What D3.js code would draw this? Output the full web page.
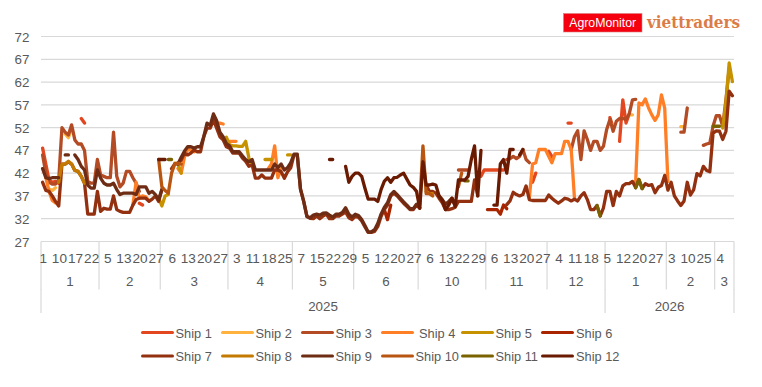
<!DOCTYPE html>
<html><head><meta charset="utf-8">
<script src="https://cdn.jsdelivr.net/npm/d3@7"></script>
<style>html,body{margin:0;padding:0;background:#fff}svg{display:block}text{font-family:"Liberation Sans",Arial,sans-serif}</style>
</head><body><svg id="c" width="762" height="387"></svg>
<script>
// category levels: day labels per month
const months = [
 {year:"2025",month:"1",days:[1,6,7,8,9,10,13,14,15,16,17,18,19,20,21,22,23,24]},
 {year:"2025",month:"2",days:[3,4,5,6,7,10,12,13,14,17,18,19,20,21,24,25,26,27,28]},
 {year:"2025",month:"3",days:[3,4,5,6,7,10,11,12,13,14,17,18,19,20,21,24,25,26,27,28,31]},
 {year:"2025",month:"4",days:[1,2,3,4,7,8,9,11,14,15,16,17,18,21,22,23,24,25,28,29]},
 {year:"2025",month:"5",days:[5,6,7,8,9,12,13,15,16,19,20,21,22,23,26,27,28,29,30]},
 {year:"2025",month:"6",days:[2,3,4,5,6,9,10,11,12,13,16,17,18,20,23,24,25,26,27,30]},
 {year:"2025",month:"10",days:[1,2,3,6,7,8,9,10,13,14,15,16,17,22,23,24,27,28,29,30,31]},
 {year:"2025",month:"11",days:[3,4,6,7,10,11,12,13,14,17,18,19,20,21,24,25,26,27,28]},
 {year:"2025",month:"12",days:[1,2,3,4,5,8,9,10,11,12,15,16,17,18,19,22,23,24]},
 {year:"2026",month:"1",days:[5,6,7,8,9,12,13,14,15,16,20,21,22,23,26,27,28,29,30]},
 {year:"2026",month:"2",days:[2,3,4,5,6,9,10,11,12,13,20,25,26,27,28]},
 {year:"2026",month:"3",days:[3,4,5,6,9,10]}
];
const yTicks = [27,32,37,42,47,52,57,62,67,72];
const shipNames = ["Ship 1","Ship 2","Ship 3","Ship 4","Ship 5","Ship 6","Ship 7","Ship 8","Ship 9","Ship 10","Ship 11","Ship 12"];
const shipColors = ["#E2471F","#FFB23E","#B34B24","#FF7F27","#C79200","#A82500","#93300F","#C47A00","#6E2C14","#B85510","#7A6200","#6A1A00"];
// each run: [first category index, values...]
const ship1 = [[0,[47.5,44,40.5,40,40.2,39.8]],[12,[54,53]],[30,[35.4,35]],[136,[41.3,42.7,42.7,42.7,42.7,42.7,42.7,42.7]],[152,[40,42]],[157,[46.8,45.7]],[163,[53,53]],[176,[54.2,52]],[179,[49,58.1,53,55]]];
const ship2 = [[2,[38.5,38.2,38.8]],[7,[50.6,49.8,51.8]],[53,[53.5,53]],[176,[53,52.5]],[182,[54.8,54.8]],[198,[52.2,52.2]]];
const ship3 = [[0,[46,42,40,39.6,39.6,40.5,52,51,50.4,52.6,49.3,48.4,48.4,47,40.2,39.8,39.8,45,41.6,41.3,41,41,51,41.3,39,39.8,42.4,42.4,41,39.8,38]],[129,[42.7,42.7,42.7,42.7]],[144,[45,45.2,45.7,45.2,45.7,47.2,45,44.3]],[164,[47.2,50,51.3,45,51.3,49.4,47,49,49,47,47.9,51.6,53.8,51.2,53.4,54,54,53.8,55,58.1,58.2]],[198,[51,51,56.3]],[205,[48.1,48.4,48.6]],[208,[52.3,54.6,54.6,52.3,58.1,65]]];
const ship4 = [[1,[41,38,36,35.5]],[28,[35,40,36.5,37,36.8,36]],[42,[43,42,45.5,47.3,47,46.7]],[53,[53,53,53,52.8]],[58,[49,49,49]],[70,[43,44,48,41,43]],[151,[36.6,44,44.3,47.2,47.2,47.2,45.7,44.3,46.3,46.3,46.3,49,49,47.2,36.6]],[184,[40.2,57.4,57,58.3,56.3,54.8,53.6,54.8,59.2,56.3,40.2]]];
const ship5 = [[36,[36.5,34.8,37,37.3]],[41,[44.2,44,42]],[57,[49.9,48.2,48,48,47.9,47.9,49,45.3,43.8]],[69,[45,45,45]],[76,[46,46]],[211,[51.9,57.4,66.2,62.1]]];
const ship6 = [[106,[34,31.8,35]],[138,[34,34,34,34,33,35,34.2]]];
const ship7 = [[0,[40,38.2,38,37,35.8,34.8,44,44,44.5,44,42.6,42.4,41.3,39.8,33,33,33,38,33.6,34.3,34.1,34.1,37,34,33.6,33.4,33.4,33.4,35,36.2,36.5,36.5,36.5,35.8,36.3,37,35.8,38.4]],
 [40,[43,44,44.2,44.9,46.4,46,46.4,47.1,46.7,46.7,50,51.9,51.9,53.7,51.9,50,49.3,47.8,47.5,46.4,46.4,46.4,45.3,44.6,43.5,43.8,40.9,40.9,41.6,40.9,40.9,40.9,42.7,42.7,42.3,40.9,42.3,43.2,46,46,38.4,35.8,32.5,32.1,32,32.6,32,32.6,33,32,32,32.6,32.6,33,33.5,32.2,31.8,32.5,32.3,31.5,30.2,29,29,29.2,30.3,32.5,34,35,37,37.6,37,36.2,35.4,34.7,34,34,35,34.3]],
 [119,[39.4,38,38,37.6,36.5,35.5,34,34,34.2,34.5,35.8,35.8,35.8,35.8,35.8,40.5,37]],
 [144,[35.1,35.9,37.8,37.3,37,37.3,39.2,36.2,36,36,36,36,36,37.2,36.5,35.9,35.4,35.9,36.5,36.3,35.9,36.3,35.9,37,37.7,36.2,34,34,34.9,32.6,34.4,38,38,34.9,38,37,39.2,39.7,39.7,40.2,38.8,40.6,38.6,39.7,39.3,39.5,37.7,38.9,39.3,41.5,38.3,40,37,35.9,34.9,35.9,40,37.2,38.4,41.9,41.4,43.5,42.6,42.3,50.8,51.3,51.2,49.4,51.2,60,59]]];
const ship8 = [[5,[40,44,44,44.6,44,42.6,42.4,41.3,39.8]],[119,[38,37.5,37.5]]];
const ship9 = [[0,[43,41,40.8,41,41,41]],[7,[46,46]],
 [10,[46,45,43.5,42.7,39.4,38.7,38.7,42.7,40.9,39.8,39.4,39.4,39.8,38.4,37.3,37.6,37.6,37.6,37.6,37.3,39,39,39,37.6,38,37.3,36.2,38.4]],
 [42,[44,45.5,46.8,47.8,47.8,47.5,47.8,47.8,50,53,52.5,55,53.5,51,50,48.5,48,46.7,46.7,46.7,45.8,45,44.5,45,42.7,42.7,42.7,42.7,42.7,42.7,44,43.2,44,42.7,43.2,44.3,46.2,46.2,38.6,35.8,32.5,32.2,32.8,33,32.8,33.2,33.3,32.8,32.4,33,33,33.4,34.4,33,32.4,33,32.7,31.8,30.5,29.1,29.1,29.6,31,33,34.5,35.5,37.3,38,37.3,36.5,35.7,35,34.2,34.2,35.2,34.5]],
 [123,[37,36.2,35.2,35.8,36.5,35]]];
const ship10 = [[36,[45,39,38.2,37.6,42,44,44.2,44]],[117,[35,48,37.5,37.5,37]],[129,[39,42]]];
const ship11 = [[39,[45,45]],[131,[40.3,40.3]],[172,[34.9,32.6]],[184,[38.8,40.6,38.6]],[208,[52.3,52.3,52.3]]];
const ship12 = [[36,[45,45,45]],[89,[45,45]],
 [94,[43.5,40,41.3,42,42,41.3,38.7,36.3,36.3,36.3,35.8,38.4,40.2,41,40,41,41.1,41.6,42,40.7,39.4,38.9,38,34.3,44.5,39.4,39.4,39.6,39.4,37,36,34,35,36.5,34.7,40.5,40.5,40.5,41.3,45,48,37,47]],
 [140,[35,35,44,45,42,47.2,47.2]],[148,[46,47.2]]];
const shipRuns = [ship1,ship2,ship3,ship4,ship5,ship6,ship7,ship8,ship9,ship10,ship11,ship12];

const svg = d3.select("#c");
const catIdx = d3.range(d3.sum(months,m=>m.days.length));
const x = d3.scaleBand().domain(catIdx).range([41,734]);
const y = d3.scaleLinear().domain([27,72]).range([241.5,36.5]);
const gridCol = "#D9D9D9", txt = "#595959";

// grid
svg.append("g").selectAll("line").data(yTicks).join("line")
 .attr("x1",41).attr("x2",734).attr("y1",d=>y(d)).attr("y2",d=>y(d))
 .attr("stroke",gridCol).attr("stroke-width",1.2);
// y axis labels
svg.append("g").selectAll("text").data(yTicks).join("text")
 .attr("x",29.5).attr("y",d=>y(d)+1.5).attr("text-anchor","end").attr("dominant-baseline","middle")
 .attr("font-size",13.4).attr("fill",txt).text(d=>d);

// multi-level x axis
let cursor=0; const monthSpans=[];
months.forEach(m=>{monthSpans.push({...m,start:cursor,end:cursor+m.days.length});cursor+=m.days.length;});
const edge = i => i>=catIdx.length ? x.range()[1] : x(i);
const axisG = svg.append("g");
axisG.selectAll("line.m").data([...monthSpans.map(m=>m.start),catIdx.length]).join("line")
 .attr("x1",edge).attr("x2",edge).attr("y1",241.5).attr("y2",289.5).attr("stroke",gridCol).attr("stroke-width",1.2);
const years = d3.groups(monthSpans,m=>m.year).map(([k,v])=>({year:k,start:v[0].start,end:v[v.length-1].end}));
axisG.selectAll("line.y").data([...years.map(d=>d.start),catIdx.length]).join("line")
 .attr("x1",edge).attr("x2",edge).attr("y1",289).attr("y2",313).attr("stroke",gridCol).attr("stroke-width",1.2);
const allDays = monthSpans.flatMap(m=>m.days);
axisG.selectAll("text.d").data(catIdx.filter(i=>i%5===0)).join("text")
 .attr("x",i=>x(i)+x.bandwidth()/2+0.7).attr("y",259.5).attr("text-anchor","middle").attr("dominant-baseline","middle")
 .attr("font-size",13.6).attr("fill",txt).text(i=>allDays[i]);
axisG.selectAll("text.m").data(monthSpans).join("text")
 .attr("x",m=>(edge(m.start)+edge(m.end))/2).attr("y",282.8).attr("text-anchor","middle").attr("dominant-baseline","middle")
 .attr("font-size",13.4).attr("fill",txt).text(m=>m.month);
axisG.selectAll("text.y").data(years).join("text")
 .attr("x",d=>(edge(d.start)+edge(d.end))/2).attr("y",307).attr("text-anchor","middle").attr("dominant-baseline","middle")
 .attr("font-size",13.4).attr("fill",txt).text(d=>d.year);

// lines
const line = d3.line().defined(d=>d!=null).x((d,i)=>x(i)+x.bandwidth()/2).y(d=>y(d));
shipRuns.forEach((runs,k)=>{
  const vals = new Array(catIdx.length).fill(null);
  runs.forEach(([s,v])=>v.forEach((d,j)=>vals[s+j]=d));
  svg.append("path").datum(vals).attr("d",line).attr("fill","none")
   .attr("stroke",shipColors[k]).attr("stroke-width",3.3).attr("stroke-linejoin","round").attr("stroke-linecap","round");
});

// legend
const legX=[142.5,222.5,302.5,382.5,462.5,542.5], legTxt=[175.5,255.5,335.5,419,495.5,576];
const leg = svg.append("g").selectAll("g").data(shipNames).join("g");
leg.append("line").attr("x1",(d,i)=>legX[i%6]).attr("x2",(d,i)=>legX[i%6]+30)
 .attr("y1",(d,i)=>i<6?332.5:356).attr("y2",(d,i)=>i<6?332.5:356)
 .attr("stroke",(d,i)=>shipColors[i]).attr("stroke-width",3).attr("stroke-linecap","round");
leg.append("text").attr("x",(d,i)=>i===9?415.5:legTxt[i%6]).attr("y",(d,i)=>i<6?334.3:357.5)
 .attr("dominant-baseline","middle").attr("font-size",12.8).attr("fill",txt).text(d=>d);

// logos
svg.append("rect").attr("x",563.5).attr("y",13.5).attr("width",78.5).attr("height",18.5).attr("fill","#F5000F").attr("stroke","#D98080").attr("stroke-width",0.6);
svg.append("text").attr("x",602.7).attr("y",23.5).attr("text-anchor","middle").attr("dominant-baseline","middle")
 .attr("font-size",12.3).attr("fill","#fff").text("AgroMonitor");
svg.append("text").attr("x",647).attr("y",28).attr("font-size",17.5).attr("font-weight","bold")
 .style("font-family","'DejaVu Serif',serif").attr("fill","#DB7C48").attr("textLength",93).attr("lengthAdjust","spacingAndGlyphs").text("viettraders");
</script></body></html>
